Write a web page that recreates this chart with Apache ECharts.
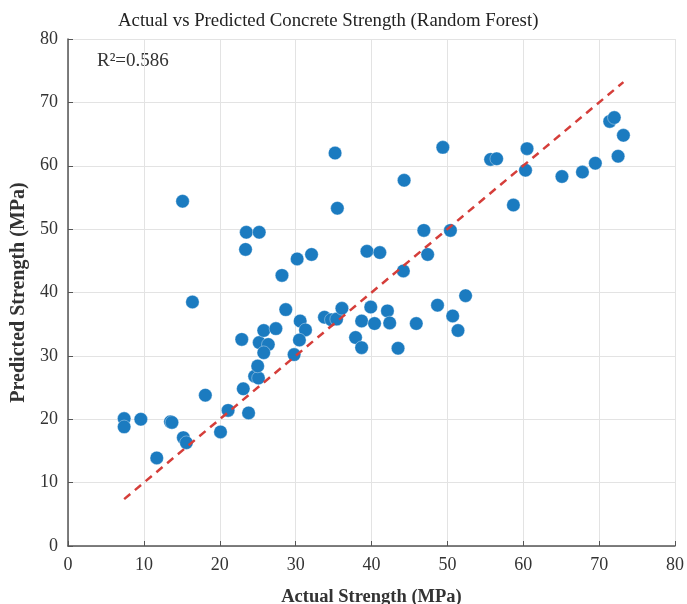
<!DOCTYPE html>
<html>
<head>
<meta charset="utf-8">
<script src="https://cdn.jsdelivr.net/npm/echarts@6/dist/echarts.min.js"></script>
<style>
  html, body { margin: 0; padding: 0; background: #ffffff; }
  #chart { width: 687px; height: 604px; }
</style>
</head>
<body>
<div id="chart"></div>
<script>
// Test-set strengths (MPa): measured vs. random-forest prediction
const actual = [7.4, 7.4, 9.6, 11.7, 13.5, 13.7, 15.2, 15.6, 15.1, 16.4, 18.1, 20.1, 21.1, 22.9, 23.1, 23.8,
  23.5, 23.4, 25.2, 24.6, 25.1, 25.0, 25.2, 25.8, 26.4, 25.8, 27.4, 28.7, 28.2, 30.2, 32.1, 30.6, 31.3, 30.5,
  29.8, 33.8, 34.7, 35.4, 36.1, 35.2, 35.5, 37.9, 38.7, 38.7, 39.9, 40.4, 39.4, 41.1, 42.1, 42.4, 43.5, 44.2,
  44.3, 45.9, 46.9, 47.4, 48.7, 49.4, 50.4, 50.7, 51.4, 52.4, 55.7, 56.5, 58.7, 60.3, 60.5, 65.1, 67.8, 69.5,
  71.4, 72.0, 72.5, 73.2];
const predicted = [20.1, 18.8, 20.0, 13.9, 19.6, 19.5, 17.1, 16.3, 54.4, 38.5, 23.8, 18.0, 21.4, 32.6, 24.8, 21.0,
  49.5, 46.8, 49.5, 26.8, 26.5, 28.4, 32.1, 34.0, 31.8, 30.5, 34.3, 37.3, 42.7, 45.3, 46.0, 35.5, 34.1, 32.5,
  30.2, 36.1, 35.7, 35.8, 37.5, 62.0, 53.3, 32.9, 31.3, 35.5, 37.7, 35.1, 46.5, 46.3, 37.1, 35.2, 31.2, 43.4,
  57.7, 35.1, 49.8, 46.0, 38.0, 62.9, 49.8, 36.3, 34.0, 39.5, 61.0, 61.1, 53.8, 59.3, 62.7, 58.3, 59.0, 60.4,
  67.0, 67.6, 61.5, 64.8];
const axisTicks = [0, 10, 20, 30, 40, 50, 60, 70, 80];
const r2Label = 'R²=0.586';

const points = actual.map((a, i) => [a, predicted[i]]);
const lo = Math.min(...actual);
const hi = Math.max(...actual);
const idealLine = [[lo, lo], [hi, hi]];

const serif = '"Liberation Serif", "DejaVu Serif", serif';
const axisMin = axisTicks[0];
const axisMax = axisTicks[axisTicks.length - 1];
const step = axisTicks[1] - axisTicks[0];

function axis(name, nameGap, nameSize, labelMargin) {
  return {
    type: 'value',
    min: axisMin,
    max: axisMax,
    interval: step,
    name: name,
    nameLocation: 'middle',
    nameGap: nameGap,
    nameTextStyle: { fontFamily: serif, fontWeight: 'bold', fontSize: nameSize, color: '#333' },
    axisLine: { show: true, lineStyle: { color: '#555', width: 1.5 } },
    axisTick: { show: true, inside: true, length: 5, lineStyle: { color: '#555' } },
    axisLabel: { fontFamily: serif, fontSize: 18, color: '#333', margin: labelMargin },
    splitLine: { show: true, lineStyle: { color: '#e3e3e3', width: 1 } }
  };
}

const chart = echarts.init(document.getElementById('chart'), null, { renderer: 'canvas' });
chart.setOption({
  animation: false,
  backgroundColor: '#ffffff',
  title: {
    text: 'Actual vs Predicted Concrete Strength (Random Forest)',
    left: 113,
    top: 7,
    textStyle: { fontFamily: serif, fontWeight: 'normal', fontSize: 18.8, color: '#222' }
  },
  grid: { left: 68, right: 12, top: 39, bottom: 58, outerBoundsMode: 'none', containLabel: false },
  xAxis: axis('Actual Strength (MPa)', 42, 18.5, 10),
  yAxis: axis('Predicted Strength (MPa)', 38, 20, 10),
  graphic: [{
    type: 'text',
    left: 97,
    top: 52,
    style: { text: r2Label, font: '19px ' + serif, fill: '#333' }
  }],
  series: [
    {
      type: 'line',
      data: idealLine,
      symbol: 'none',
      silent: true,
      lineStyle: { color: '#d53e3a', width: 2.5, type: [8, 6] },
      z: 3
    },
    {
      type: 'scatter',
      data: points,
      symbol: 'circle',
      symbolSize: 13.5,
      itemStyle: { color: '#1b7bc0', borderColor: 'rgba(255,255,255,0.6)', borderWidth: 0.6, opacity: 1 },
      z: 2
    }
  ]
});
</script>
</body>
</html>
